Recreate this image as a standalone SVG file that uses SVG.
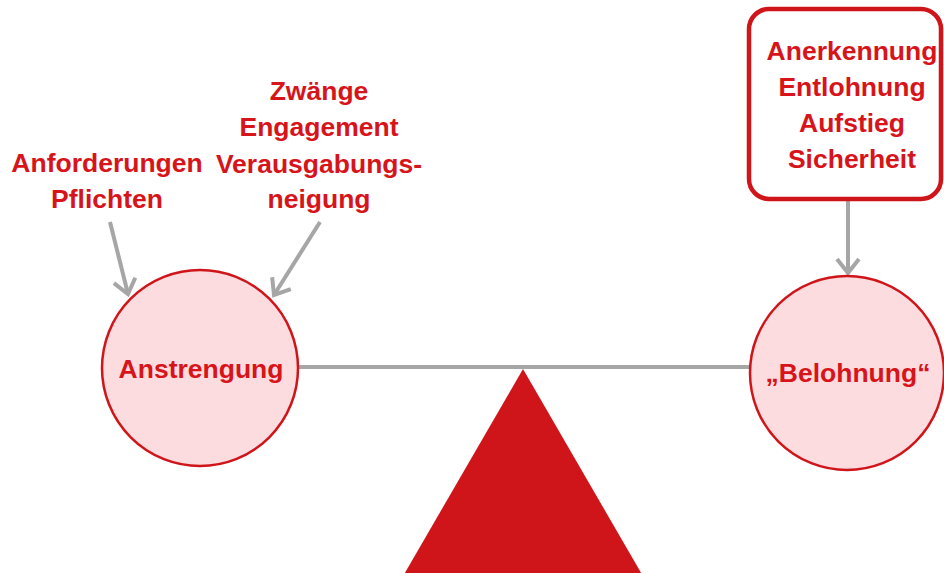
<svg xmlns="http://www.w3.org/2000/svg" width="944" height="573" viewBox="0 0 944 573">
<style>
.t{font-family:"Liberation Sans",Arial,sans-serif;font-weight:bold;font-size:26.5px;fill:#d7141a;text-anchor:middle}
.c{fill:#fcdcde;stroke:#d0151a;stroke-width:2.5}
.e{stroke:#a6a6a6;stroke-width:4;fill:none}
</style>
<defs>
<marker id="ah" markerUnits="userSpaceOnUse" markerWidth="34" markerHeight="34" viewBox="-17 -17 34 34" refX="0" refY="0" orient="auto">
<path d="M-14,-11 L0,0 L-14,11" fill="none" stroke="#a6a6a6" stroke-width="4" stroke-linejoin="miter"/>
</marker>
</defs>
<rect width="944" height="573" fill="#fff"/>
<g id="fulcrum"><polygon points="523,369 395,590 651,590" fill="#d0151a"/></g>
<g id="connectors">
<line class="e" x1="110" y1="222" x2="128" y2="294" marker-end="url(#ah)"/>
<line class="e" x1="320" y1="222" x2="274" y2="295" marker-end="url(#ah)"/>
<line class="e" x1="848" y1="200" x2="848" y2="273" marker-end="url(#ah)"/>
<line class="e" x1="298" y1="367" x2="752" y2="367"/>
</g>
<g id="anstrengung"><circle class="c" cx="200" cy="368" r="98"/><text class="t" x="201" y="378">Anstrengung</text></g>
<g id="belohnung"><circle class="c" cx="847" cy="373" r="97"/><text class="t" x="848" y="382">„Belohnung“</text></g>
<g id="anforderungen"><text class="t" x="107" y="172">Anforderungen</text><text class="t" x="107" y="208">Pflichten</text></g>
<g id="zwaenge"><text class="t" x="319" y="100">Zwänge</text><text class="t" x="319" y="136">Engagement</text><text class="t" x="319" y="173">Verausgabungs-</text><text class="t" x="319" y="208">neigung</text></g>
<g id="box"><rect x="749" y="9" width="192" height="190" rx="20" fill="#fff" stroke="#d0151a" stroke-width="4.5"/>
<text class="t" x="852" y="60">Anerkennung</text><text class="t" x="852" y="96">Entlohnung</text><text class="t" x="852" y="132">Aufstieg</text><text class="t" x="852" y="168">Sicherheit</text></g>
</svg>
